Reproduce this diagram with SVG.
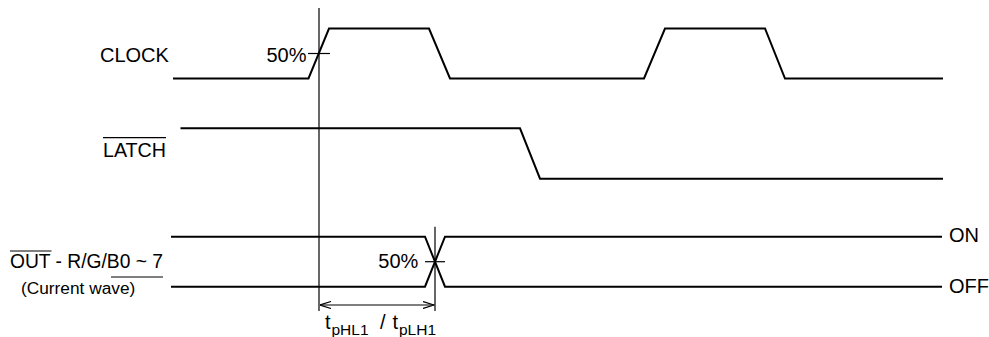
<svg xmlns="http://www.w3.org/2000/svg" width="989" height="337" viewBox="0 0 989 337">
<style>
.bg{fill:#ffffff}
.wave{fill:none;stroke:#000;stroke-width:2;stroke-linejoin:miter}
.thin{fill:none;stroke:#000;stroke-width:1.2}
.lbl{font-family:"Liberation Sans",Arial,sans-serif;font-size:20px;fill:#000}
.small{font-family:"Liberation Sans",Arial,sans-serif;font-size:17.3px;fill:#000}
.sub{font-family:"Liberation Sans",Arial,sans-serif;font-size:15.5px;fill:#000}
</style>
<defs>
<marker id="openArrow" viewBox="0 0 12 8" refX="11.5" refY="4" markerWidth="12" markerHeight="8" markerUnits="userSpaceOnUse" orient="auto-start-reverse">
<path d="M0.5,0.5 L11.5,4 L0.5,7.5" fill="none" stroke="#000" stroke-width="1.2"/>
</marker>
</defs>
<rect class="bg" x="0" y="0" width="989" height="337"/>

<g id="clock">
<text class="lbl" x="100" y="61.5">CLOCK</text>
<path class="wave" d="M173,78.5 H308.5 L329,28.5 H429 L450,78.5 H644 L665,28.5 H765 L785,78.5 H943"/>
<line class="thin" x1="308" y1="53.5" x2="330" y2="53.5"/>
<text class="lbl" x="306.5" y="61.5" text-anchor="end">50%</text>
</g>

<g id="latch">
<text class="lbl" x="103" y="156.5" textLength="63" lengthAdjust="spacingAndGlyphs">LATCH</text>
<line class="thin" x1="103" y1="137.7" x2="166" y2="137.7"/>
<path class="wave" d="M180.5,128.3 H520 L540,178.7 H943"/>
</g>

<g id="out">
<text class="lbl" x="10" y="268" textLength="153" lengthAdjust="spacingAndGlyphs">OUT - R/G/B0 ~ 7</text>
<line class="thin" x1="10" y1="251" x2="51.5" y2="251"/>
<line class="thin" x1="111" y1="277" x2="163" y2="277"/>
<text class="small" x="21" y="294">(Current wave)</text>
<path class="wave" d="M171,236.7 H425 L445,286.7 H942"/>
<path class="wave" d="M171,286.7 H425 L445,236.7 H942"/>
<line class="thin" x1="425" y1="261.7" x2="445" y2="261.7"/>
<text class="lbl" x="418.3" y="268.3" text-anchor="end">50%</text>
<text class="lbl" x="949" y="242">ON</text>
<text class="lbl" x="949" y="292.7">OFF</text>
</g>

<g id="connectors">
<line class="thin" x1="319" y1="8" x2="319" y2="311"/>
<line class="thin" x1="435" y1="226.7" x2="435" y2="311"/>
<line class="thin" x1="320" y1="305" x2="434" y2="305" marker-start="url(#openArrow)" marker-end="url(#openArrow)"/>
</g>

<g id="timing-label">
<text class="lbl" x="325" y="329">t</text>
<text class="sub" x="331.5" y="334.5">pHL1</text>
<text class="lbl" x="380" y="329">/</text>
<text class="lbl" x="392.5" y="329">t</text>
<text class="sub" x="399" y="334.5">pLH1</text>
</g>
</svg>
